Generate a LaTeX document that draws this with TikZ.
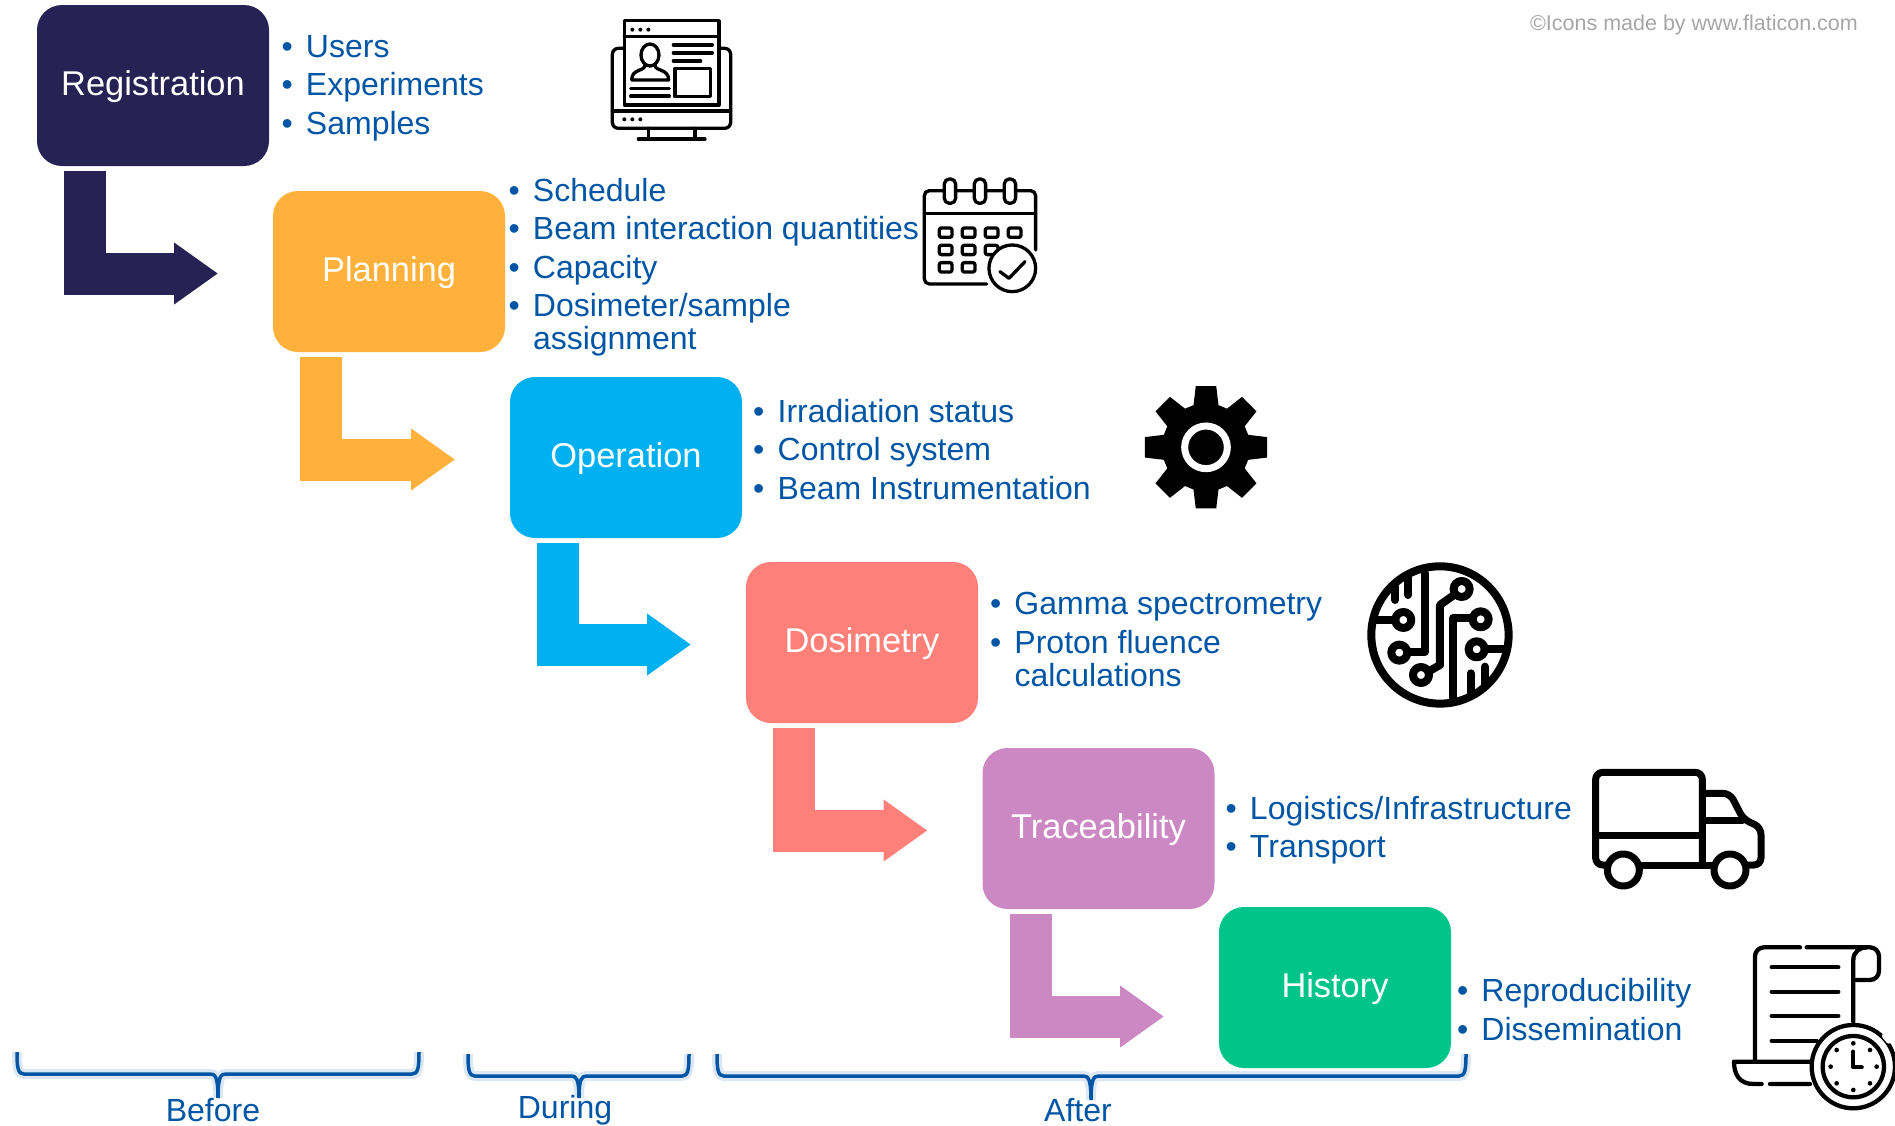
\documentclass[tikz,border=0pt]{standalone}
\usepackage{fontspec}
\setmainfont{Liberation Sans}
\usetikzlibrary{arrows.meta, positioning}
\definecolor{regcol}{HTML}{262254}
\definecolor{plancol}{HTML}{FFB13B}
\definecolor{opercol}{HTML}{00B0F0}
\definecolor{dosicol}{HTML}{FF8079}
\definecolor{traccol}{HTML}{CC88C3}
\definecolor{histcol}{HTML}{00C48A}
\definecolor{listcol}{HTML}{0056A4}
\newcommand{\itm}{\makebox[24.5pt][l]{\textbullet}}
\tikzset{
    stepbox/.style={rounded corners=25pt, minimum width=232pt, minimum height=161pt, inner sep=0pt, outer sep=0pt, text=white, text depth=4.5pt, font=\fontsize{34.4}{40}\selectfont, fill=#1},
    itemlist/.style={align=left, inner sep=0pt, outer sep=0pt, text=listcol, font=\fontsize{32}{38.5}\selectfont},
    steparrow/.style={line width=42pt, -{Triangle[length=44pt, width=59pt]}},
    bracestroke/.style={draw=listcol, line width=3.5pt, preaction={draw=listcol!14, line width=10pt}},
    bracelabel/.style={inner sep=0pt, text=listcol, font=\fontsize{32}{38}\selectfont},
    iconline/.style={draw=black, line width=#1, line cap=round, line join=round}
}

\begin{document}
\begin{tikzpicture}[x=1pt, y=-1pt]
    \useasboundingbox (0,0) rectangle (1895,1125);

    \node[stepbox=regcol]   (reg)  at (153,85.5)                  {Registration};
    \node[stepbox=plancol]  (plan) [below right=25pt and 4pt of reg]      {Planning};
    \node[stepbox=opercol]  (oper) [below right=25pt and 5pt of plan]     {Operation};
    \node[stepbox=dosicol]  (dosi) [below right=24pt and 4pt of oper]     {Dosimetry};
    \node[stepbox=traccol]  (trac) [below right=25pt and 4.5pt of dosi]   {Traceability};
    \node[stepbox=histcol]  (hist) [below right=-2pt and 4.5pt of trac]   {History};

    \node[itemlist] (regitems)  [right=12.5pt of reg, yshift=-2.5pt] {\itm Users\\ \itm Experiments\\ \itm Samples};
    \node[itemlist] (planitems) [right=3.5pt of plan, yshift=4.5pt]  {\itm Schedule\\ \itm Beam interaction quantities\\ \itm Capacity\\ \itm Dosimeter/sample\\[-5.5pt] \hspace*{24.5pt}assignment};
    \node[itemlist] (operitems) [right=11.2pt of oper, yshift=8pt]   {\itm Irradiation status\\ \itm Control system\\ \itm Beam Instrumentation};
    \node[itemlist] (dosiitems) [right=12pt of dosi, yshift=3pt]     {\itm Gamma spectrometry\\ \itm Proton fluence\\[-5.5pt] \hspace*{24.5pt}calculations};
    \node[itemlist] (tracitems) [right=11pt of trac, yshift=-1.5pt]  {\itm Logistics/Infrastructure\\ \itm Transport};
    \node[itemlist] (histitems) [right=6pt of hist, yshift=-22pt]    {\itm Reproducibility\\ \itm Dissemination};

    \draw[steparrow, regcol]  ([xshift=48pt, yshift=-5pt]reg.south west)  |- ([xshift=-55pt, yshift=-2pt]plan.west);
    \draw[steparrow, plancol] ([xshift=48pt, yshift=-5pt]plan.south west) |- ([xshift=-55pt, yshift=-2pt]oper.west);
    \draw[steparrow, opercol] ([xshift=48pt, yshift=-5pt]oper.south west) |- ([xshift=-55pt, yshift=-2pt]dosi.west);
    \draw[steparrow, dosicol] ([xshift=48pt, yshift=-5pt]dosi.south west) |- ([xshift=-55pt, yshift=-2pt]trac.west);
    \draw[steparrow, traccol] ([xshift=48pt, yshift=-5pt]trac.south west) |- ([xshift=-55pt, yshift=-29pt]hist.west);

    \node (credit) [anchor=east, inner sep=0pt, text=black!35, font=\fontsize{21.5}{24}\selectfont] at (1858,25) {©Icons made by www.flaticon.com};

    \path[bracestroke] (17,1052) .. controls (17,1068) and (18,1074) .. (24,1074) -- (210,1074) .. controls (215,1074) and (218,1076) .. (218,1098) .. controls (218,1076) and (221,1074) .. (226,1074) -- (412,1074) .. controls (418,1074) and (419,1068) .. (419,1052);
    \path[bracestroke] (468,1054) .. controls (468,1070) and (469,1076) .. (475,1076) -- (571,1076) .. controls (576,1076) and (579,1078) .. (579,1098) .. controls (579,1078) and (582,1076) .. (587,1076) -- (682,1076) .. controls (688,1076) and (689,1070) .. (689,1054);
    \path[bracestroke] (717,1054) .. controls (717,1070) and (718,1076) .. (724,1076) -- (1083,1076) .. controls (1088,1076) and (1091,1078) .. (1091,1100) .. controls (1091,1078) and (1094,1076) .. (1099,1076) -- (1459,1076) .. controls (1465,1076) and (1466,1070) .. (1466,1054);
    \node[bracelabel] (before) at (213,1110) {Before};
    \node[bracelabel] (during) at (565,1110) {During};
    \node[bracelabel] (after)  at (1078,1110) {After};

    % monitor
    \begin{scope}[shift={(590,0)}, scale=0.3333, iconline=3.3pt]
        \draw[rounded corners=6pt] (100,145) -- (67,145) -- (67,385) -- (422,385) -- (422,145) -- (390,145);
        \draw (67,333) -- (422,333) (175,385) -- (175,415) (315,385) -- (315,415) (145,417) -- (345,417);
        \draw (103,62) rectangle (387,315) (103,110) -- (387,110);
        \fill (127,89) circle (6) (151,89) circle (6) (175,89) circle (6) (103,358) circle (6) (127,358) circle (6) (151,358) circle (6);
        \draw (180,165) ellipse (27 and 33);
        \draw (125,240) .. controls (125,205) and (165,215) .. (165,195) (195,195) .. controls (195,215) and (236,205) .. (236,240) -- (125,240);
        \draw (122,265) -- (238,265) (122,288) -- (238,288);
        \draw (250,135) -- (367,135) (250,159) -- (367,159) (250,183) -- (332,183);
        \draw (255,205) rectangle (362,290);
    \end{scope}

    % calendar
    \begin{scope}[shift={(590,0)}, scale=0.3333, iconline=3.3pt]
        \draw[rounded corners=5pt] (1337,750) -- (1337,572) -- (1003,572) -- (1003,852) -- (1190,852);
        \draw (1003,640) -- (1337,640);
        \draw[fill=white, rounded corners=5pt] (1063,537) rectangle (1097,610);
        \draw[fill=white, rounded corners=5pt] (1153,537) rectangle (1187,610);
        \draw[fill=white, rounded corners=5pt] (1243,537) rectangle (1277,610);
        \draw[rounded corners=2pt] (1048,684) rectangle (1086,712) (1117,684) rectangle (1155,712) (1186,684) rectangle (1224,712) (1255,684) rectangle (1293,712);
        \draw[rounded corners=2pt] (1048,736) rectangle (1086,764) (1117,736) rectangle (1155,764) (1186,736) rectangle (1224,764);
        \draw[rounded corners=2pt] (1048,788) rectangle (1086,816) (1117,788) rectangle (1155,816);
        \draw[fill=white] (1267,805) circle (70);
        \draw (1230,815) -- (1257,835) -- (1305,785);
    \end{scope}

    % gear
    \begin{scope}[shift={(1120,370)}, scale=0.3333]
        \fill[black, shift={(258,232)}] (-16.5:132) \foreach \a in {0,45,...,315} { -- (\a-16.5:132) -- (\a-9.5:186) -- (\a+9.5:186) -- (\a+16.5:132)} -- cycle;
        \draw[white, line width=7pt] (258,232) circle (64);
    \end{scope}

    % circuit
    \begin{scope}[shift={(1120,370)}, scale=0.3333, iconline=8pt]
        \draw (960,795) circle (206);
        \draw (1025,657) circle (24) (1082,748) circle (24) (1070,838) circle (24) (850,750) circle (24) (838,848) circle (24) (903,915) circle (24);
        \draw (770,750) -- (826,750);
        \draw (915,610) -- (915,845) -- (862,845);
        \draw (825,690) -- (825,650) (865,675) -- (865,620);
        \draw (1002,675) -- (960,705) -- (960,885) -- (925,905);
        \draw (1000,985) -- (1000,745) -- (1058,745);
        \draw (1094,838) -- (1150,838);
        \draw (1052,910) -- (1052,970) (1095,890) -- (1095,945);
    \end{scope}

    % truck
    \begin{scope}[shift={(1560,750)}, scale=0.3333, iconline=7pt]
        \draw[rounded corners=7pt] (140,345) -- (107,345) -- (107,67) -- (427,67) -- (427,345);
        \draw (107,255) -- (427,255) (240,345) -- (460,345);
        \draw[rounded corners=7pt] (427,130) -- (510,130) -- (550,208) -- (603,232) -- (603,345) -- (560,345);
        \draw (427,210) -- (548,210);
        \draw (190,360) circle (48) (510,360) circle (48);
    \end{scope}

    % scroll and clock
    \begin{scope}[shift={(1560,750)}, scale=0.3333, iconline=4.3pt]
        \draw[rounded corners=9pt] (585,930) -- (585,592) -- (720,592);
        \draw[rounded corners=9pt] (740,592) -- (957,592) -- (957,690) -- (880,690);
        \draw (880,815) -- (880,630) .. controls (880,605) and (900,592) .. (920,592);
        \draw (635,652) -- (835,652) (635,725) -- (835,725) (635,798) -- (835,798) (635,872) -- (770,872);
        \draw (750,935) -- (522,935) .. controls (522,975) and (540,1002) .. (580,1002) -- (605,1002) (630,1002) -- (750,1002);
        \draw[fill=white] (880,950) circle (125);
        \draw (880,950) circle (92);
        \draw[white, line width=6pt] (975,858) -- (987,872);
        \draw (880,905) -- (880,952) -- (905,952);
        \fill (880,880) circle (7) (930,900) circle (7) (950,950) circle (7) (930,1000) circle (7) (880,1020) circle (7) (830,1000) circle (7) (812,950) circle (7) (830,900) circle (7);
    \end{scope}
\end{tikzpicture}
\end{document}
